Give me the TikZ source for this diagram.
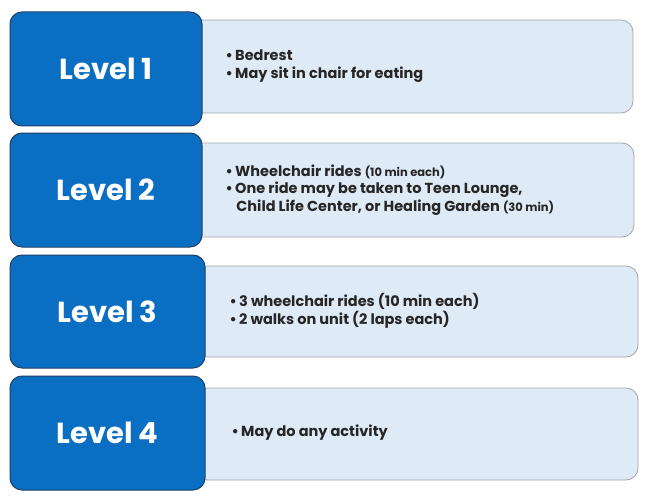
\documentclass[tikz,border=0pt]{standalone}
\usepackage{fontspec}
\setmainfont{Poppins}
\definecolor{lvblue}{HTML}{0A6FC2}
\definecolor{lvedge}{HTML}{1F3F66}
\definecolor{lightbox}{HTML}{DEEAF6}
\definecolor{txt}{HTML}{262626}
\tikzset{
 lvbox/.style={draw=lvedge,line width=1pt,fill=lvblue,rounded corners=12pt,text=white,font=\fontsize{29}{32}\selectfont\bfseries},
 infobox/.style={draw=gray!70,line width=0.8pt,fill=lightbox,rounded corners=12pt},
 info/.style={anchor=west,text=txt,font=\fontsize{14.5}{18}\selectfont\bfseries,align=left},
}
\newcommand{\sm}[1]{{\fontsize{11.5}{13}\selectfont #1}}
\begin{document}
\begin{tikzpicture}[x=1pt,y=-1pt]
\useasboundingbox (0,0) rectangle (650,500);
\fill[white] (0,0) rectangle (650,500);
% info boxes
\draw[infobox] (190,20) rectangle (633,113); \coordinate (i1) at (222,66);
\draw[infobox] (190,143) rectangle (634,237); \coordinate (i2) at (222,190);
\draw[infobox] (195,266) rectangle (638,357); \coordinate (i3) at (226,311);
\draw[infobox] (195,388) rectangle (638,480); \coordinate (i4) at (228,433);
% level boxes
\draw[lvbox] (10,12) rectangle (202,126) node[midway] (l1) {Level 1};
\draw[lvbox] (10,133) rectangle (202,247) node[midway] (l2) {Level 2};
\draw[lvbox] (10,255) rectangle (205,368) node[midway] (l3) {Level 3};
\draw[lvbox] (10,376) rectangle (205,490) node[midway] (l4) {Level 4};
\node[info] (t1) at (i1) {•\,Bedrest\\•\,May sit in chair for eating};
\node[info] (t2) at (i2) {•\,Wheelchair rides \sm{(10 min each)}\\[-1pt]•\,One ride may be taken to Teen Lounge,\\\hspace{0.75em}Child Life Center, or Healing Garden \sm{(30 min)}};
\node[info] (t3) at (i3) {•\,3 wheelchair rides (10 min each)\\•\,2 walks on unit (2 laps each)};
\node[info] (t4) at (i4) {•\,May do any activity};
\end{tikzpicture}
\end{document}
